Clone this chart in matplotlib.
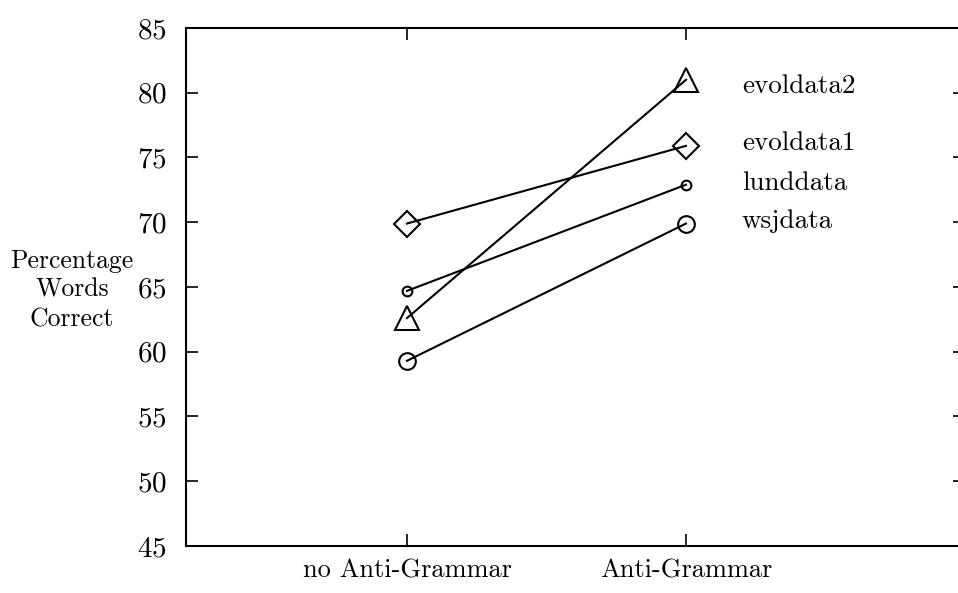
import numpy as np
import matplotlib.pyplot as plt

plt.rcParams['font.family'] = ['cmr10', 'DejaVu Serif']
plt.rcParams['axes.formatter.use_mathtext'] = True

conditions = ['no Anti-Grammar', 'Anti-Grammar']
series = ['evoldata2', 'evoldata1', 'lunddata', 'wsjdata']
evoldata2 = [62.6, 81.0]
evoldata1 = [69.9, 75.9]
lunddata = [64.7, 72.9]
wsjdata = [59.3, 69.9]

values = [evoldata2, evoldata1, lunddata, wsjdata]
markers = ['^', 'D', 'o', 'o']
sizes = [17, 13.5, 7, 12]
label_y = [80.5, 76.1, 73.0, 70.1]  # text sits a touch off the marker

x = np.array([1, 2])

fig = plt.figure(figsize=(9.58, 5.93), dpi=100)
ax = fig.add_axes([186 / 958, 47 / 593, 779 / 958, 518 / 593])

for name, vals, m, s, ly in zip(series, values, markers, sizes, label_y):
    ax.plot(x, vals, color='black', lw=1.5, marker=m, markersize=s,
            markerfacecolor='none', markeredgecolor='black', markeredgewidth=1.5)
    ax.text(2.2, ly, name, fontsize=19.5, va='center', ha='left')

ax.set_xlim(0.208, 3.0)
ax.set_ylim(45, 85)
ax.set_xticks(x)
ax.set_xticklabels(conditions, fontsize=19)
ax.set_yticks(np.arange(45, 86, 5))
ax.tick_params(axis='y', labelsize=21, direction='in', length=8.5, width=1.2, right=True, pad=14)
ax.tick_params(axis='x', direction='in', length=8.5, width=1.2, top=True, pad=9)
ax.spines['right'].set_visible(False)
for sp in ['left', 'top', 'bottom']:
    ax.spines[sp].set_linewidth(1.5)

fig.text(72 / 958, 1 - 290 / 593, 'Percentage\nWords\nCorrect', fontsize=18.5,
         ha='center', va='center', multialignment='center', linespacing=1.3)

fig.savefig('out.png', dpi=100)
